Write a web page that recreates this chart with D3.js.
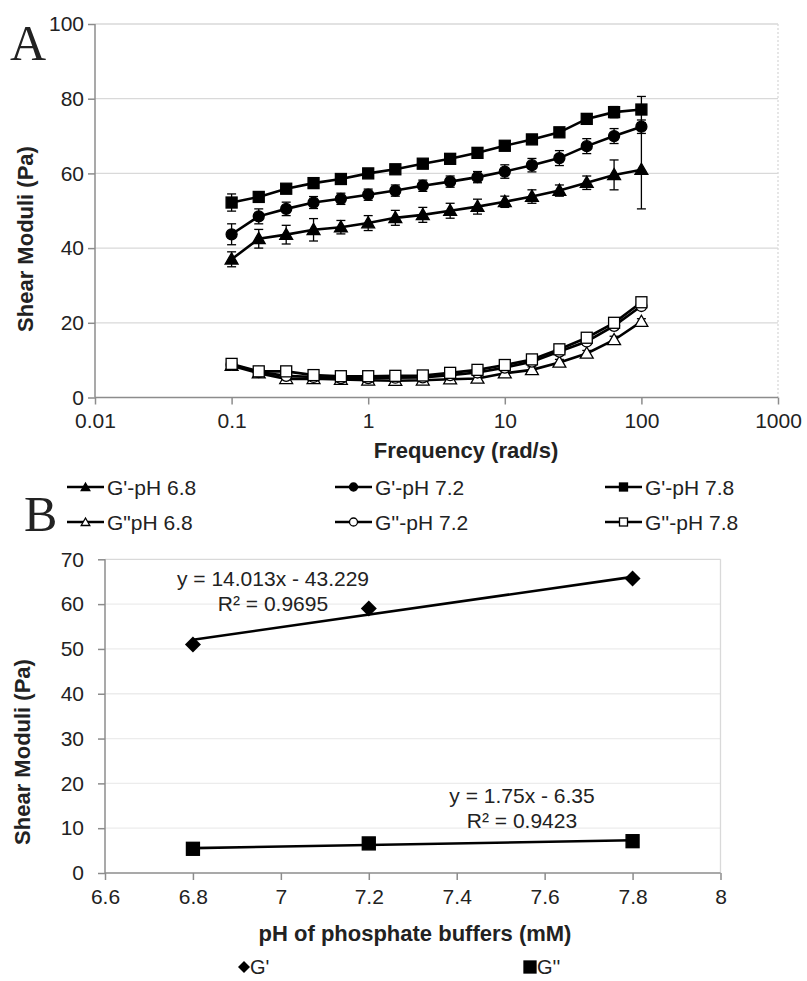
<!DOCTYPE html>
<html><head><meta charset="utf-8">
<script src="https://cdn.jsdelivr.net/npm/d3@7"></script>
<style>body{margin:0;background:#fff}svg{display:block}text{font-family:"Liberation Sans",Arial,sans-serif;fill:#222}</style>
</head><body>
<svg id="c" width="807" height="981"></svg>
<script>
// ---------- Panel A data ----------
const freq = [0.1, 0.158, 0.251, 0.398, 0.631, 1, 1.58, 2.51, 3.98, 6.31, 10, 15.8, 25.1, 39.8, 63.1, 100];
const gp68  = [37.0, 42.5, 43.6, 44.9, 45.6, 46.7, 48.1, 48.9, 50.0, 51.1, 52.4, 53.8, 55.4, 57.5, 59.6, 61.0];
const gp68e = [2.0, 2.5, 2.5, 3.0, 1.8, 2.0, 2.0, 2.0, 2.0, 2.0, 1.5, 1.8, 1.5, 1.8, 4.0, 10.5];
const gp72  = [43.7, 48.5, 50.5, 52.2, 53.2, 54.3, 55.4, 56.7, 57.8, 59.0, 60.5, 62.2, 64.1, 67.3, 70.0, 72.5];
const gp72e = [2.8, 2.0, 1.8, 1.6, 1.5, 1.5, 1.5, 1.5, 1.5, 1.5, 1.8, 1.8, 2.0, 2.0, 2.0, 1.8];
const gp78  = [52.2, 53.7, 55.9, 57.4, 58.5, 60.0, 61.1, 62.6, 63.9, 65.5, 67.4, 69.1, 71.0, 74.6, 76.4, 77.1];
const gp78e = [2.3, 1.2, 1.0, 1.0, 1.0, 1.0, 1.0, 1.0, 1.0, 1.0, 1.0, 1.0, 1.0, 1.0, 1.5, 3.5];
const gpp68  = [8.5, 6.5, 5.0, 5.0, 4.8, 4.6, 4.5, 4.6, 4.9, 5.1, 6.5, 7.4, 9.4, 11.8, 15.4, 20.3];
const gpp68e = [1.0, 0.8, 1.0, 0.8, 0.8, 0.8, 0.8, 0.8, 0.8, 0.8, 0.8, 0.8, 0.8, 0.8, 1.0, 0.8];
const gpp72  = [8.8, 6.8, 5.8, 5.5, 5.2, 5.2, 5.3, 5.4, 6.0, 6.7, 8.0, 9.6, 12.3, 15.0, 19.2, 24.5];
const gpp72e = [1.0, 0.8, 0.8, 0.8, 0.8, 0.8, 0.8, 0.8, 0.8, 0.8, 0.8, 0.8, 0.8, 0.8, 0.8, 0.8];
const gpp78  = [9.0, 7.0, 7.0, 6.0, 5.7, 5.7, 5.8, 5.9, 6.6, 7.4, 8.7, 10.2, 12.9, 16.0, 20.0, 25.5];
const gpp78e = [1.2, 0.8, 0.8, 0.8, 0.8, 0.8, 0.8, 0.8, 0.8, 0.8, 0.8, 0.8, 0.8, 0.8, 0.8, 0.8];
const seriesNamesA = ["G'-pH 6.8", "G'-pH 7.2", "G'-pH 7.8", "G\"pH 6.8", "G''-pH 7.2", "G''-pH 7.8"];
const xTicksA = [0.01, 0.1, 1, 10, 100, 1000];
const yTicksA = [0, 20, 40, 60, 80, 100];

// ---------- Panel B data ----------
const ph = [6.8, 7.2, 7.8];
const gPrime = [51.0, 59.0, 65.7];
const gDouble = [5.4, 6.6, 7.1];
const fitPrime = [14.013, -43.229];   // slope, intercept (from the equation label)
const fitDouble = [1.75, -6.35];
const eqPrime = ["y = 14.013x - 43.229", "R² = 0.9695"];
const eqDouble = ["y = 1.75x - 6.35", "R² = 0.9423"];
const seriesNamesB = ["G'", "G''"];
const xTicksB = [6.6, 6.8, 7, 7.2, 7.4, 7.6, 7.8, 8];
const yTicksB = [0, 10, 20, 30, 40, 50, 60, 70];

const svg = d3.select("#c");
const AX = "#8c8c8c", GRID = "#d9d9d9";

// ================= Panel A =================
const xA = d3.scaleLog().domain([0.01, 1000]).range([95, 778]);
const yA = d3.scaleLinear().domain([0, 100]).range([397.5, 24]);
const gA = svg.append("g");

gA.selectAll(".gridA").data(yTicksA.filter(d => d > 0)).join("line")
  .attr("x1", 95).attr("x2", 778).attr("y1", d => yA(d)).attr("y2", d => yA(d))
  .attr("stroke", GRID).attr("stroke-width", 1.3);
gA.append("line").attr("x1", 778).attr("x2", 778).attr("y1", yA(100)).attr("y2", yA(0))
  .attr("stroke", GRID).attr("stroke-width", 1.3).attr("stroke-dasharray", "2,2");

const axA_y = gA.append("g").attr("transform", "translate(95,0)")
  .call(d3.axisLeft(yA).tickValues(yTicksA).tickSize(7).tickPadding(4).tickFormat(d3.format("d")));
const axA_x = gA.append("g").attr("transform", `translate(0,${yA(0)})`)
  .call(d3.axisBottom(xA).tickValues(xTicksA).tickSize(7).tickPadding(9).tickFormat(d => String(d)));
[axA_y, axA_x].forEach(a => {
  a.select(".domain").attr("stroke", AX).attr("stroke-width", 1.5);
  a.selectAll(".tick line").attr("stroke", AX).attr("stroke-width", 1.5);
  a.selectAll(".tick text").style("font-size", "21px").attr("fill", "#222");
});
axA_y.select(".domain").attr("d", `M0,${yA(100)}V${yA(0)}`);
axA_x.select(".domain").attr("d", `M95,0H778`);

gA.append("text").attr("transform", "translate(33,239) rotate(-90)").attr("text-anchor", "middle")
  .style("font-size", "22px").style("font-weight", "bold").text("Shear Moduli (Pa)");
gA.append("text").attr("x", 466).attr("y", 458).attr("text-anchor", "middle")
  .style("font-size", "22px").style("font-weight", "bold").text("Frequency (rad/s)");
svg.append("text").attr("x", 10).attr("y", 60).style("font-family", "'Liberation Serif','Times New Roman',serif")
  .style("font-size", "50px").attr("fill", "#000").text("A");

const symTri = d3.symbol().type(d3.symbolTriangle);
function drawMarker(g, type, filled, x, y, s) {
  const fill = filled ? "#000" : "#fff";
  if (type === "sq") {
    g.append("rect").attr("x", x - s / 2).attr("y", y - s / 2).attr("width", s).attr("height", s)
      .attr("fill", fill).attr("stroke", "#000").attr("stroke-width", 1.3);
  } else if (type === "ci") {
    g.append("circle").attr("cx", x).attr("cy", y).attr("r", s / 2)
      .attr("fill", fill).attr("stroke", "#000").attr("stroke-width", 1.3);
  } else if (type === "tr") {
    g.append("path").attr("d", symTri.size(s * s * 0.5)()).attr("transform", `translate(${x},${y + 1})`)
      .attr("fill", fill).attr("stroke", "#000").attr("stroke-width", 1.3);
  } else if (type === "di") {
    g.append("path").attr("d", d3.symbol().type(d3.symbolSquare).size(s * s / 2)())
      .attr("transform", `translate(${x},${y}) rotate(45)`).attr("fill", fill);
  }
}

const seriesA = [
  { v: gpp68, e: gpp68e, m: "tr", f: false },
  { v: gpp72, e: gpp72e, m: "ci", f: false },
  { v: gpp78, e: gpp78e, m: "sq", f: false },
  { v: gp68, e: gp68e, m: "tr", f: true },
  { v: gp72, e: gp72e, m: "ci", f: true },
  { v: gp78, e: gp78e, m: "sq", f: true }
];
const lineA = d3.line().x((d, i) => xA(freq[i])).y(d => yA(d));
seriesA.forEach(s => {
  const g = gA.append("g");
  s.v.forEach((v, i) => {
    const x = xA(freq[i]), y1 = yA(v + s.e[i]), y2 = yA(v - s.e[i]);
    g.append("line").attr("x1", x).attr("x2", x).attr("y1", y1).attr("y2", y2).attr("stroke", "#000").attr("stroke-width", 1.3);
    [y1, y2].forEach(yy => g.append("line").attr("x1", x - 4.5).attr("x2", x + 4.5).attr("y1", yy).attr("y2", yy).attr("stroke", "#000").attr("stroke-width", 1.3));
  });
  g.append("path").datum(s.v).attr("d", lineA).attr("fill", "none").attr("stroke", "#000").attr("stroke-width", 2.6);
  s.v.forEach((v, i) => drawMarker(g, s.m, s.f, xA(freq[i]), yA(v), s.m === "tr" ? 12 : 11));
});

// Legend A
const legA = [
  { n: seriesNamesA[0], m: "tr", f: true, x: 67, y: 487 },
  { n: seriesNamesA[1], m: "ci", f: true, x: 335, y: 487 },
  { n: seriesNamesA[2], m: "sq", f: true, x: 605, y: 487 },
  { n: seriesNamesA[3], m: "tr", f: false, x: 67, y: 522 },
  { n: seriesNamesA[4], m: "ci", f: false, x: 335, y: 522 },
  { n: seriesNamesA[5], m: "sq", f: false, x: 605, y: 522 }
];
legA.forEach(l => {
  const g = svg.append("g");
  g.append("line").attr("x1", l.x).attr("x2", l.x + 37).attr("y1", l.y).attr("y2", l.y).attr("stroke", "#000").attr("stroke-width", 2.6);
  drawMarker(g, l.m, l.f, l.x + 18.5, l.y, 8);
  g.append("text").attr("x", l.x + 40).attr("y", l.y).attr("dy", "0.36em").style("font-size", "21px").text(l.n);
});

// ================= Panel B =================
const xB = d3.scaleLinear().domain([6.6, 8]).range([105, 720.5]);
const yB = d3.scaleLinear().domain([0, 70]).range([873, 559.3]);
const gB = svg.append("g");
gB.selectAll(".gridB").data(yTicksB.filter(d => d > 0)).join("line")
  .attr("x1", 105).attr("x2", 720.5).attr("y1", d => yB(d)).attr("y2", d => yB(d))
  .attr("stroke", d => d === 70 ? GRID : "#ececec").attr("stroke-width", 1.3);
gB.append("line").attr("x1", 720.5).attr("x2", 720.5).attr("y1", yB(70)).attr("y2", yB(0))
  .attr("stroke", GRID).attr("stroke-width", 1.3);

const axB_y = gB.append("g").attr("transform", "translate(105,0)")
  .call(d3.axisLeft(yB).tickValues(yTicksB).tickSize(7).tickPadding(14).tickFormat(d3.format("d")));
const axB_x = gB.append("g").attr("transform", `translate(0,${yB(0)})`)
  .call(d3.axisBottom(xB).tickValues(xTicksB).tickSize(7).tickPadding(9).tickFormat(d => String(d)));
[axB_y, axB_x].forEach(a => {
  a.select(".domain").attr("stroke", AX).attr("stroke-width", 1.5);
  a.selectAll(".tick line").attr("stroke", AX).attr("stroke-width", 1.5);
  a.selectAll(".tick text").style("font-size", "21px").attr("fill", "#222");
});
axB_y.select(".domain").attr("d", `M0,${yB(70)}V${yB(0)}`);
axB_x.select(".domain").attr("d", `M105,0H720.5`);

gB.append("text").attr("transform", "translate(30,752) rotate(-90)").attr("text-anchor", "middle")
  .style("font-size", "22px").style("font-weight", "bold").text("Shear Moduli (Pa)");
gB.append("text").attr("x", 415).attr("y", 941).attr("text-anchor", "middle")
  .style("font-size", "22px").style("font-weight", "bold").text("pH of phosphate buffers (mM)");
svg.append("text").attr("x", 24).attr("y", 531).style("font-family", "'Liberation Serif','Times New Roman',serif")
  .style("font-size", "50px").attr("fill", "#000").text("B");

[[fitPrime], [fitDouble]].forEach(([f]) => {
  const x0 = d3.min(ph), x1 = d3.max(ph);
  gB.append("line").attr("x1", xB(x0)).attr("x2", xB(x1))
    .attr("y1", yB(f[0] * x0 + f[1])).attr("y2", yB(f[0] * x1 + f[1]))
    .attr("stroke", "#000").attr("stroke-width", 2.6);
});
ph.forEach((p, i) => drawMarker(gB, "di", true, xB(p), yB(gPrime[i]), 16));
ph.forEach((p, i) => drawMarker(gB, "sq", true, xB(p), yB(gDouble[i]), 13));

[[eqPrime, 273, 578], [eqDouble, 522, 795]].forEach(([eq, x, y]) => {
  eq.forEach((t, k) => gB.append("text").attr("x", x).attr("y", y + k * 25).attr("dy", "0.36em")
    .attr("text-anchor", "middle").style("font-size", "21px").attr("fill", "#333").text(t));
});

// Legend B
drawMarker(svg, "di", true, 244, 967, 12);
svg.append("text").attr("x", 250).attr("y", 967).attr("dy", "0.36em").style("font-size", "20px").text(seriesNamesB[0]);
drawMarker(svg, "sq", true, 530, 967, 12);
svg.append("text").attr("x", 537).attr("y", 967).attr("dy", "0.36em").style("font-size", "20px").text(seriesNamesB[1]);
</script>
</body></html>
